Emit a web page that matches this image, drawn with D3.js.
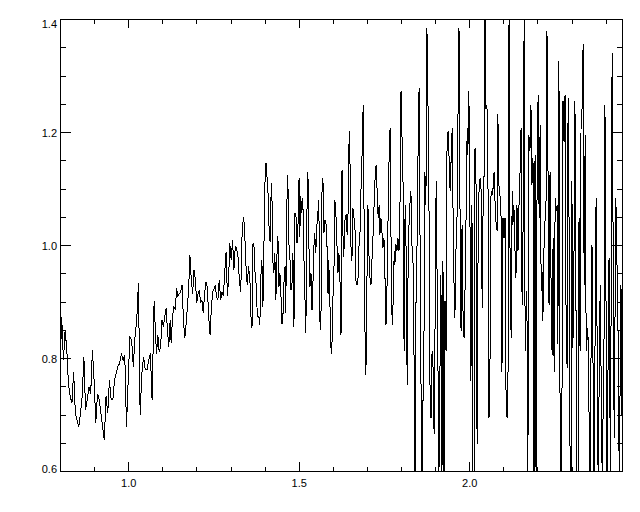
<!DOCTYPE html>
<html>
<head>
<meta charset="utf-8">
<script src="https://cdn.jsdelivr.net/npm/d3@7"></script>
<style>
  body { margin: 0; background: #fff; }
  svg { display: block; }
  text { font-family: "Liberation Sans", Arial, sans-serif; font-size: 11px; fill: #000; }
</style>
</head>
<body>
<svg id="chart" width="640" height="512"></svg>
<script>
// spectrum
var wavelength = [
  0.800,0.805,0.810,0.815,0.820,0.825,0.830,0.835,0.840,0.845,
  0.850,0.855,0.860,0.865,0.870,0.875,0.880,0.885,0.890,0.895,
  0.900,0.905,0.910,0.915,0.920,0.925,0.930,0.935,0.940,0.945,
  0.950,0.955,0.960,0.965,0.970,0.975,0.980,0.985,0.990,0.995,
  1.000,1.005,1.010,1.015,1.020,1.025,1.030,1.035,1.040,1.045,
  1.050,1.055,1.060,1.065,1.070,
  1.076,1.080,1.083,1.087,1.091,1.095,1.099,1.103,1.107,1.111,
  1.115,1.119,1.123,1.126,1.130,1.134,1.138,1.142,1.146,1.150,
  1.154,1.158,1.162,1.166,1.169,1.173,1.177,1.181,1.185,1.189,
  1.193,1.197,1.201,1.205,1.209,1.212,1.216,1.220,1.224,1.228,
  1.232,1.236,1.240,1.244,1.248,1.252,1.255,1.259,1.263,1.267,
  1.271,1.275,1.279,1.283,1.287,1.291,1.295,1.298,1.302,1.306,
  1.310,1.314,1.318,1.322,1.326,1.330,1.334,1.338,1.341,1.345,
  1.349,1.353,
  1.357,1.360,1.363,1.366,1.369,1.372,1.375,1.378,1.380,1.383,
  1.386,1.389,1.392,1.395,1.398,1.401,1.404,1.407,1.410,1.413,
  1.416,1.419,1.421,1.424,1.427,1.430,1.433,1.436,1.439,1.442,
  1.445,1.448,1.451,1.454,1.457,1.460,1.462,1.465,1.468,1.471,
  1.474,1.477,1.480,1.483,1.486,1.489,1.492,1.495,1.498,1.501,
  1.503,1.506,1.509,1.512,1.515,1.518,1.521,1.524,1.527,1.530,
  1.533,1.536,1.539,1.542,1.545,1.547,1.550,1.553,1.556,1.559,
  1.562,1.565,1.568,1.571,1.574,1.577,1.580,1.583,1.586,1.588,
  1.591,1.594,1.597,1.600,1.603,1.606,1.609,1.612,1.615,1.618,
  1.621,1.624,1.627,1.629,1.632,
  1.636,1.639,1.642,1.645,1.648,1.650,1.653,1.656,1.659,1.662,
  1.665,1.668,1.671,1.674,1.677,1.680,1.683,1.686,1.689,1.692,
  1.694,1.697,1.700,1.703,1.706,1.709,1.712,1.715,1.718,1.721,
  1.724,1.727,1.730,1.733,1.736,1.738,1.741,1.744,1.747,1.750,
  1.753,1.756,1.759,1.762,1.765,1.768,1.771,1.774,1.777,1.780,
  1.782,1.785,1.788,1.791,1.794,1.797,1.800,1.803,1.806,1.809,
  1.812,1.815,1.818,1.821,1.824,1.826,1.829,1.832,1.835,1.838,
  1.841,1.844,1.847,1.850,1.853,1.856,1.859,1.862,1.865,1.868,
  1.870,1.873,1.876,1.879,1.882,1.885,1.888,1.891,1.894,1.897,
  1.900,
  1.903,1.906,1.908,1.911,1.914,1.917,1.920,1.923,1.926,1.929,
  1.932,1.935,1.938,1.941,1.944,1.947,1.950,1.952,1.955,1.958,
  1.961,1.964,1.967,1.970,1.973,1.976,1.979,1.982,1.985,1.988,
  1.991,1.994,1.996,1.999,2.002,2.005,2.008,2.011,2.014,2.017,
  2.020,2.023,2.026,2.029,2.032,2.035,2.038,2.040,2.043,2.046,
  2.049,2.052,2.055,2.058,2.061,2.064,2.067,2.070,2.073,2.076,
  2.079,2.082,2.084,2.087,2.090,2.093,2.096,2.099,2.102,2.105,
  2.108,2.111,2.114,2.117,2.120,2.123,2.126,2.128,2.131,2.134,
  2.137,2.140,2.143,2.146,2.149,2.152,2.155,2.158,2.161,2.164,
  2.169,2.172,2.175,2.178,2.181,2.184,2.187,2.190,2.193,2.196,
  2.199,2.202,2.205,2.208,2.211,2.214,2.216,2.219,2.222,2.225,
  2.228,2.231,2.234,2.237,2.240,2.243,2.246,2.249,2.252,2.255,
  2.258,2.260,2.263,2.266,2.269,2.272,2.275,2.278,2.281,2.284,
  2.287,2.290,2.293,2.296,2.299,2.301,2.304,2.307,2.310,2.313,
  2.316,2.319,2.322,2.325,2.328,2.331,2.334,2.337,2.340,2.343,
  2.348,2.354,2.360,2.366,2.372,2.378,2.384,2.390,2.396,2.398,
  2.404,2.410,2.414,2.419,2.425,2.430,2.436,2.440,2.445,2.448
];

var flux = [
  0.775,0.873,0.796,0.850,0.814,0.752,0.732,0.720,0.776,0.702,
  0.690,0.678,0.702,0.732,0.802,0.708,0.726,0.749,0.737,0.814,
  0.761,0.685,0.737,0.726,0.702,0.678,0.655,0.732,0.702,0.761,
  0.726,0.726,0.761,0.773,0.785,0.791,0.808,0.796,0.805,0.678,
  0.761,0.838,0.832,0.785,0.838,0.867,0.932,0.700,0.773,0.802,
  0.779,0.779,0.796,0.808,0.726,
  0.900,0.844,0.808,0.840,0.810,0.820,0.867,0.855,0.873,0.888,
  0.850,0.820,0.867,0.826,0.873,0.891,0.885,0.923,0.909,0.914,
  0.917,0.929,0.867,0.835,0.855,0.885,0.920,0.982,0.938,0.914,
  0.956,0.938,0.897,0.914,0.920,0.897,0.903,0.879,0.914,0.935,
  0.926,0.873,0.841,0.891,0.917,0.923,0.929,0.909,0.903,0.938,
  0.903,0.917,0.909,0.950,0.988,0.909,0.950,1.003,0.973,1.009,
  0.956,0.997,0.994,0.979,0.938,0.917,1.021,1.050,1.032,0.968,
  0.929,0.962,
  0.938,0.873,0.853,1.003,0.997,0.950,0.932,0.885,0.873,0.873,
  0.858,0.944,0.973,0.891,0.997,1.109,1.145,1.121,1.091,1.032,
  1.006,1.091,1.109,0.973,0.950,0.985,0.903,0.979,1.015,0.926,
  0.950,0.909,0.861,0.879,0.938,0.962,0.879,1.068,1.124,1.003,
  0.985,0.920,0.926,0.985,0.855,1.056,1.050,1.003,1.038,1.118,
  1.015,1.086,1.056,1.083,0.985,0.914,0.844,1.056,1.130,0.997,
  0.926,0.950,0.885,0.938,1.003,1.021,0.985,1.032,1.056,1.080,
  0.867,0.850,1.091,1.118,1.021,1.044,1.038,0.997,0.914,0.973,
  0.914,0.820,0.808,0.903,0.938,1.080,1.056,1.003,0.950,0.985,
  0.938,0.840,1.133,1.032,0.979,
  1.048,1.054,1.018,1.060,1.201,1.166,1.001,0.971,1.065,1.048,
  1.030,0.936,0.930,0.942,1.001,1.024,1.107,1.166,1.248,1.024,
  0.859,0.770,0.930,1.071,0.983,0.942,0.930,0.977,1.018,1.071,
  1.119,1.142,1.095,1.048,1.071,1.018,1.048,1.024,0.995,1.012,
  0.942,0.859,0.930,1.048,1.154,1.207,0.989,0.859,0.900,0.989,
  0.965,1.001,0.989,1.012,0.989,1.071,1.272,1.189,1.107,0.812,
  1.071,0.989,0.753,0.977,1.048,1.071,1.095,1.001,0.977,0.812,
  0.580,0.900,1.001,1.166,1.278,0.989,0.723,0.580,0.753,0.871,
  1.130,1.071,1.384,1.254,1.071,0.753,0.694,0.812,0.782,0.665,
  0.871,
  1.113,0.930,0.812,0.580,0.765,0.947,0.580,0.971,0.580,0.900,
  0.812,1.178,1.201,1.154,1.095,1.154,1.207,1.089,0.942,0.871,
  0.989,1.036,1.225,1.384,1.060,0.847,1.036,0.871,0.835,0.930,
  1.060,1.207,1.160,1.272,1.065,0.759,1.071,0.580,0.580,1.172,
  1.107,0.647,0.989,1.107,1.119,1.095,0.888,1.048,1.071,1.450,
  1.240,1.248,1.113,0.694,0.800,1.095,1.089,1.101,1.130,1.071,
  1.036,1.024,1.231,1.107,1.089,1.071,0.776,1.048,1.012,1.048,
  0.729,0.694,0.782,1.450,0.930,0.835,1.095,1.036,1.071,0.995,
  0.942,1.071,0.989,1.071,1.130,1.207,0.894,1.036,1.400,0.812,
  0.918,0.580,1.195,1.166,1.248,1.107,1.154,0.580,1.160,0.580,
  1.113,1.266,1.048,1.213,0.918,0.953,0.865,0.989,1.042,1.054,
  1.378,1.136,0.894,1.130,0.930,0.806,1.012,0.776,1.083,1.060,
  1.071,0.824,1.325,0.753,0.580,0.723,1.254,1.183,1.266,0.871,
  0.782,1.260,1.018,0.580,0.580,1.113,0.818,0.959,1.254,0.900,
  0.580,0.580,1.048,0.812,1.225,1.242,1.355,0.930,1.195,0.812,
  0.853,0.580,1.000,0.580,1.083,0.580,0.930,0.580,0.871,1.248,
  0.580,0.977,0.580,1.340,0.658,1.083,0.871,0.580,0.930,0.700
];

var xMajorTicks = [1.0, 1.5, 2.0];
var xMinorTicks = [0.9, 1.1, 1.2, 1.3, 1.4, 1.6, 1.7, 1.8, 1.9, 2.1, 2.2, 2.3, 2.4];
var yMajorTicks = [0.6, 0.8, 1.0, 1.2, 1.4];
var yMinorTicks = [0.65, 0.7, 0.75, 0.85, 0.9, 0.95, 1.05, 1.1, 1.15, 1.25, 1.3, 1.35];

var cfg = { left: 60, right: 622, top: 19, bottom: 471, xTick: 9, yTick: 11 };

var svg = d3.select("#chart");

var x = d3.scaleLinear()
  .domain([0.8, 2.448])
  .range([cfg.left, cfg.right]);

var y = d3.scaleLinear()
  .domain([0.6, 1.4])
  .range([cfg.bottom, cfg.top]);

var fmt = d3.format(".1f");

// clip the spikes to the plot box
svg.append("clipPath")
  .attr("id", "plotclip")
  .append("rect")
  .attr("x", cfg.left)
  .attr("y", cfg.top)
  .attr("width", cfg.right - cfg.left)
  .attr("height", cfg.bottom - cfg.top);

var pts = wavelength.map(function(w, i) { return [w, flux[i]]; });

var line = d3.line()
  .x(function(d) { return x(d[0]); })
  .y(function(d) { return y(d[1]); });

svg.append("path")
  .datum(pts)
  .attr("clip-path", "url(#plotclip)")
  .attr("d", line)
  .attr("fill", "none")
  .attr("stroke", "#000")
  .attr("stroke-width", 1)
  .style("shape-rendering", "crispEdges");

function noDomain(g) { g.select(".domain").remove(); }

// bottom axis
svg.append("g")
  .attr("transform", "translate(0," + cfg.bottom + ")")
  .call(d3.axisBottom(x).tickValues(xMajorTicks).tickSize(-cfg.xTick).tickPadding(8).tickFormat(fmt))
  .call(noDomain);
svg.append("g")
  .attr("transform", "translate(0," + cfg.bottom + ")")
  .call(d3.axisBottom(x).tickValues(xMinorTicks).tickSize(-cfg.xTick / 2).tickFormat(""))
  .call(noDomain);

// top axis
svg.append("g")
  .attr("transform", "translate(0," + cfg.top + ")")
  .call(d3.axisTop(x).tickValues(xMajorTicks).tickSize(-cfg.xTick).tickFormat(""))
  .call(noDomain);
svg.append("g")
  .attr("transform", "translate(0," + cfg.top + ")")
  .call(d3.axisTop(x).tickValues(xMinorTicks).tickSize(-cfg.xTick / 2).tickFormat(""))
  .call(noDomain);

// left axis
var yl = svg.append("g")
  .attr("transform", "translate(" + cfg.left + ",0)")
  .call(d3.axisLeft(y).tickValues(yMajorTicks).tickSize(-cfg.yTick).tickPadding(3).tickFormat(fmt))
  .call(noDomain);
// keep the end labels inside the box, like the original
yl.selectAll("text").attr("y", function(d) {
  var ty = y(d);
  var c = Math.max(cfg.top + 5, Math.min(cfg.bottom - 2, ty + 1));
  return c - ty;
});
svg.append("g")
  .attr("transform", "translate(" + cfg.left + ",0)")
  .call(d3.axisLeft(y).tickValues(yMinorTicks).tickSize(-cfg.yTick / 2).tickFormat(""))
  .call(noDomain);

// right axis
svg.append("g")
  .attr("transform", "translate(" + cfg.right + ",0)")
  .call(d3.axisRight(y).tickValues(yMajorTicks).tickSize(-cfg.yTick).tickFormat(""))
  .call(noDomain);
svg.append("g")
  .attr("transform", "translate(" + cfg.right + ",0)")
  .call(d3.axisRight(y).tickValues(yMinorTicks).tickSize(-cfg.yTick / 2).tickFormat(""))
  .call(noDomain);

svg.selectAll(".tick line").style("shape-rendering", "crispEdges");
svg.selectAll(".tick text").style("font-family", "'Liberation Sans', Arial, sans-serif").style("font-size", "11px");

// box
svg.append("rect")
  .attr("x", cfg.left + 0.5)
  .attr("y", cfg.top + 0.5)
  .attr("width", cfg.right - cfg.left)
  .attr("height", cfg.bottom - cfg.top)
  .attr("fill", "none")
  .attr("stroke", "#000")
  .style("shape-rendering", "crispEdges");
</script>
</body>
</html>
